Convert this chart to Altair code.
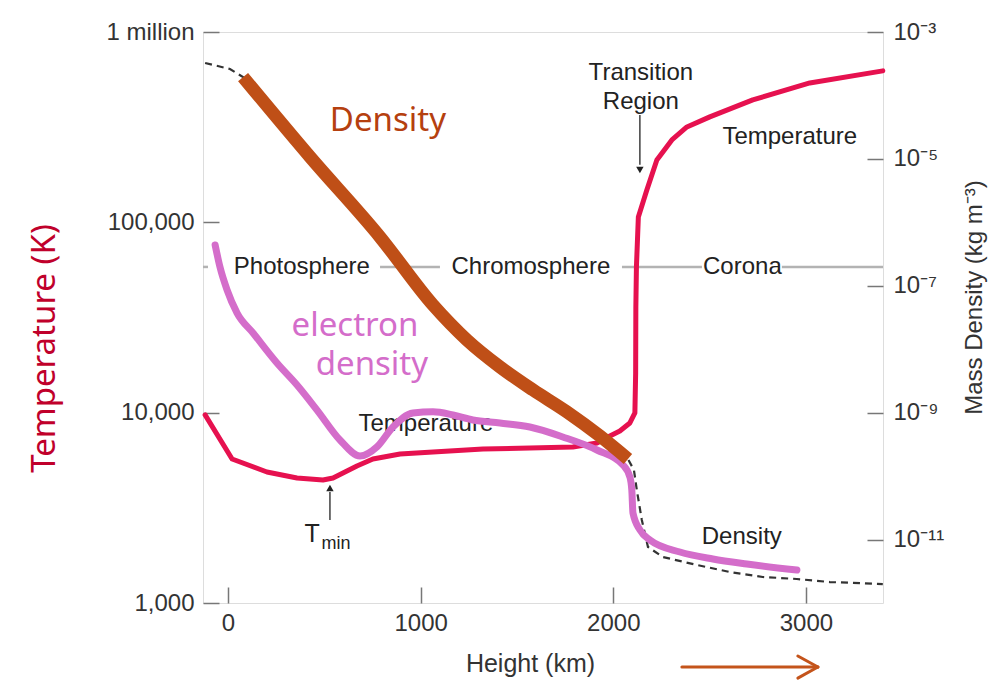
import math
import altair as alt
import pandas as pd

# ---------------- axes ----------------
X_DOMAIN = [-130, 3400]
T_DOMAIN = [1000, 1000000]
RHO_DOMAIN = [1e-12, 1e-3]

x_ticks = [0, 1000, 2000, 3000]
t_ticks = [1000, 10000, 100000, 1000000]
t_tick_labels = ["1,000", "10,000", "100,000", "1 million"]
rho_ticks = [1e-3, 1e-5, 1e-7, 1e-9, 1e-11]
rho_tick_labels = ["10⁻³", "10⁻⁵", "10⁻⁷", "10⁻⁹", "10⁻¹¹"]

# ---------------- series ----------------
# Temperature (K) vs height (km)
temp_h = [-119, 21, 202, 358, 493, 545, 669, 752, 893, 1064, 1323, 1567, 1790, 1915, 1972,
          2034, 2086, 2112, 2116, 2117, 2120, 2130, 2174, 2226, 2304, 2382, 2501, 2724, 3020, 3399]
temp_T = [9730, 5710, 4880, 4540, 4430, 4540, 5250, 5710, 6070, 6210, 6440, 6530, 6600, 6930, 7450,
          8010, 8830, 9960, 16170, 35900, 58300, 106700, 148000, 212600, 271000, 317000, 358000,
          440000, 540000, 625000]

# Original mass density curve (kg m^-3), dashed
mass_h = [-119, 10, 78, 426, 789, 1064, 1240, 1412, 1583, 1759, 1930, 2076,
          2107, 2122, 2148, 2180, 2257, 2434, 2605, 2776, 2953, 3124, 3399]
mass_rho = [3.25e-4, 2.61e-4, 1.95e-4, 1.07e-5, 5.87e-7, 4.97e-8, 1.40e-8, 5.25e-9,
            2.28e-9, 1.03e-9, 4.29e-10, 1.86e-10, 1.25e-10, 6.04e-11, 2.03e-11, 7.64e-12,
            5.31e-12, 3.97e-12, 3.08e-12, 2.57e-12, 2.39e-12, 2.14e-12, 1.99e-12]

# Hand-drawn "Density" overlay (brown)
dens_h = [78, 426, 789, 1064, 1240, 1412, 1583, 1759, 1930, 2076]
dens_rho = [1.95e-4, 1.07e-5, 5.87e-7, 4.97e-8, 1.40e-8, 5.25e-9, 2.28e-9, 1.03e-9,
            4.29e-10, 1.86e-10]

# Hand-drawn "electron density" overlay (purple), drawn on the right-hand scale
e_h = [-67, -42, -5, 47, 130, 254, 358, 462, 581, 685, 773, 856, 960, 1064, 1168, 1271, 1412,
       1567, 1738, 1915, 2050, 2086, 2096, 2102, 2138, 2190, 2346, 2517, 2693, 2953]
e_rho = [4.40e-7, 1.98e-7, 8.59e-8, 3.72e-8, 1.80e-8, 6.07e-9, 2.73e-9, 1.10e-9, 3.71e-10,
         2.07e-10, 2.88e-10, 5.94e-10, 9.89e-10, 1.03e-9, 9.18e-10, 7.67e-10, 6.87e-10, 5.94e-10,
         4.14e-10, 2.58e-10, 1.50e-10, 9.68e-11, 6.04e-11, 2.62e-11, 1.42e-11, 9.84e-12,
         6.37e-12, 4.94e-12, 4.12e-12, 3.31e-12]

# ---------------- annotations ----------------
phase_level_T = 58300
phase_seg_h = [-130, 789, 2045, 2875]
phase_seg_h2 = [-104, 1100, 2460, 3400]

ann_text = ["Photosphere", "Chromosphere", "Corona", "Transition", "Region",
            "Temperature", "Temperature", "Density"]
ann_h = [383, 1572, 2670, 2143, 2143, 2916, 1027, 2667]
ann_T = [58300, 58300, 58300, 609700, 430000, 281000, 8730, 2223]

tmin_text = ["T", "min"]
tmin_h = [436, 560]
tmin_T = [2306, 2042]
tmin_size = [25, 18]

arrow_h = [2138, 529]
arrow_T_from = [366000, 2729]
arrow_T_to = [200500, 3829]
arrow_head_T = [188300, 4018]
arrow_head_shape = ["triangle-down", "triangle-up"]

overlay_text = ["Density", "electron", "density"]
overlay_h = [830, 659, 747]
overlay_T = [302000, 25300, 15780]
overlay_color = ["#b5400f", "#d46dca", "#d46dca"]

# brown direction arrow below the axis (shaft + chevron)
barrow_h = [2356, 2958, 2958]
barrow_h2 = [3062, 3062, 3062]
barrow_T = [461, 527, 403]
barrow_T2 = [461, 461, 461]


def make_expr(values, labels):
    parts = [f"abs(log(datum.value)/LN10 - ({math.log10(v):.4f})) < 0.01 ? '{lab}'"
             for v, lab in zip(values, labels)]
    return " : ".join(parts) + " : ''"


TXT = "#333333"
x_axis = alt.Axis(values=x_ticks, format="d", title="Height (km)", orient="bottom",
                  offset=-16, tickSize=16, tickColor="#777777", tickWidth=1.5, domain=False,
                  labelPadding=8, labelFont="Liberation Sans", labelFontSize=24, labelColor=TXT,
                  labelFlush=False, labelOverlap=False, grid=False,
                  titleFont="Liberation Sans", titleFontSize=25, titleColor=TXT,
                  titleFontWeight="normal", titleX=327, titleY=76,
                  titleAlign="center", titleBaseline="middle")
t_axis = alt.Axis(values=t_ticks, labelExpr=make_expr(t_ticks, t_tick_labels), orient="left",
                  offset=-16, tickSize=16, tickColor="#777777", tickWidth=1.5, domain=False,
                  labelPadding=9, labelFont="Liberation Sans", labelFontSize=24, labelColor=TXT,
                  labelFlush=False, labelOverlap=False, labelBound=False, grid=False,
                  title="Temperature (K)", titleFont="Noto Sans", titleFontSize=33,
                  titleColor="#c0002b", titleFontWeight="normal", titleAngle=270,
                  titleX=-175, titleY=316, titleAlign="center", titleBaseline="middle")
rho_axis = alt.Axis(values=rho_ticks, labelExpr=make_expr(rho_ticks, rho_tick_labels),
                    orient="right", offset=-16, tickSize=16, tickColor="#777777", tickWidth=1.5,
                    domain=False, labelPadding=10, labelFont="Liberation Sans", labelFontSize=24,
                    labelColor=TXT, labelFlush=False, labelOverlap=False, labelBound=False,
                    grid=False, title="Mass Density (kg m⁻³)", titleFont="Liberation Sans",
                    titleFontSize=24, titleColor=TXT, titleFontWeight="normal", titleAngle=270,
                    titleX=107, titleY=265, titleAlign="center", titleBaseline="middle")

x_scale = alt.Scale(domain=X_DOMAIN, nice=False, zero=False)
t_scale = alt.Scale(type="log", domain=T_DOMAIN, nice=False)
rho_scale = alt.Scale(type="log", domain=RHO_DOMAIN, nice=False)


def X():
    return alt.X("h:Q", scale=x_scale, axis=x_axis)


def YT(field="T"):
    return alt.Y(f"{field}:Q", scale=t_scale, axis=t_axis)


def YR():
    return alt.Y("rho:Q", scale=rho_scale, axis=rho_axis)


# ---------- temperature-scale group ----------
phase_df = pd.DataFrame({"h": phase_seg_h, "h2": phase_seg_h2,
                         "T": [phase_level_T] * len(phase_seg_h)})
phase_rules = alt.Chart(phase_df).mark_rule(color="#b3b3b3", strokeWidth=2.5).encode(
    x=X(), x2="h2:Q", y=YT())

ann_df = pd.DataFrame({"h": ann_h, "T": ann_T, "txt": ann_text})
ann = alt.Chart(ann_df).mark_text(font="Liberation Sans", fontSize=24, color="#222222",
                                  align="center", baseline="middle").encode(
    x=X(), y=YT(), text="txt:N")

tmin_df = pd.DataFrame({"h": tmin_h, "T": tmin_T, "txt": tmin_text, "sz": tmin_size})
tmin = alt.Chart(tmin_df).mark_text(font="Liberation Sans", color="#222222",
                                    align="center", baseline="middle").encode(
    x=X(), y=YT(), text="txt:N", size=alt.Size("sz:Q", scale=None))

arrow_df = pd.DataFrame({"h": arrow_h, "T": arrow_T_from, "T2": arrow_T_to,
                         "Th": arrow_head_T, "shape": arrow_head_shape})
arrow_shafts = alt.Chart(arrow_df).mark_rule(color="#222222", strokeWidth=1.3).encode(
    x=X(), y=YT(), y2="T2:Q")
arrow_heads = alt.Chart(arrow_df).mark_point(filled=True, size=55, color="#222222",
                                             opacity=1).encode(
    x=X(), y=YT("Th"), shape=alt.Shape("shape:N", scale=None))

temp_df = pd.DataFrame({"h": temp_h, "T": temp_T, "i": list(range(len(temp_h)))})
temp_line = alt.Chart(temp_df).mark_line(color="#e6114f", strokeWidth=5,
                                         strokeJoin="round", strokeCap="round").encode(
    x=X(), y=YT(), order="i:Q")

over_df = pd.DataFrame({"h": overlay_h, "T": overlay_T, "txt": overlay_text,
                        "col": overlay_color})
overlay = alt.Chart(over_df).mark_text(font="Noto Sans", fontSize=33, align="center",
                                       baseline="alphabetic").encode(
    x=X(), y=YT(), text="txt:N", color=alt.Color("col:N", scale=None))

barrow_df = pd.DataFrame({"h": barrow_h, "h2": barrow_h2, "T": barrow_T, "T2": barrow_T2})
barrow = alt.Chart(barrow_df).mark_rule(color="#c4541b", strokeWidth=3, clip=False,
                                        strokeCap="round").encode(
    x=X(), x2="h2:Q", y=YT(), y2="T2:Q")

temp_group = alt.layer(phase_rules, ann, tmin, arrow_shafts, arrow_heads, temp_line,
                       overlay, barrow)

# ---------- density-scale group ----------
mass_df = pd.DataFrame({"h": mass_h, "rho": mass_rho})
mass_line = alt.Chart(mass_df).mark_line(color="#333333", strokeWidth=2.2,
                                         strokeDash=[7, 5]).encode(x=X(), y=YR())

e_df = pd.DataFrame({"h": e_h, "rho": e_rho})
e_line = alt.Chart(e_df).mark_line(color="#d46dca", strokeWidth=7, interpolate="monotone",
                                   strokeCap="round", strokeJoin="round").encode(x=X(), y=YR())

dens_df = pd.DataFrame({"h": dens_h, "rho": dens_rho})
dens_line = alt.Chart(dens_df).mark_line(color="#bf4f17", strokeWidth=13, interpolate="monotone",
                                         strokeCap="butt", strokeJoin="round").encode(
    x=X(), y=YR())

dens_group = alt.layer(mass_line, e_line, dens_line)

chart = alt.layer(temp_group, dens_group).resolve_scale(y="independent").properties(
    width=680, height=571,
    padding={"left": 195, "top": 24, "right": 106, "bottom": 80},
    autosize=alt.AutoSizeParams(type="none"),
).configure_view(stroke="#8c8c8c", strokeWidth=2).configure(background="white")

chart.save("out.html", embed_options={"renderer": "svg", "actions": False})
